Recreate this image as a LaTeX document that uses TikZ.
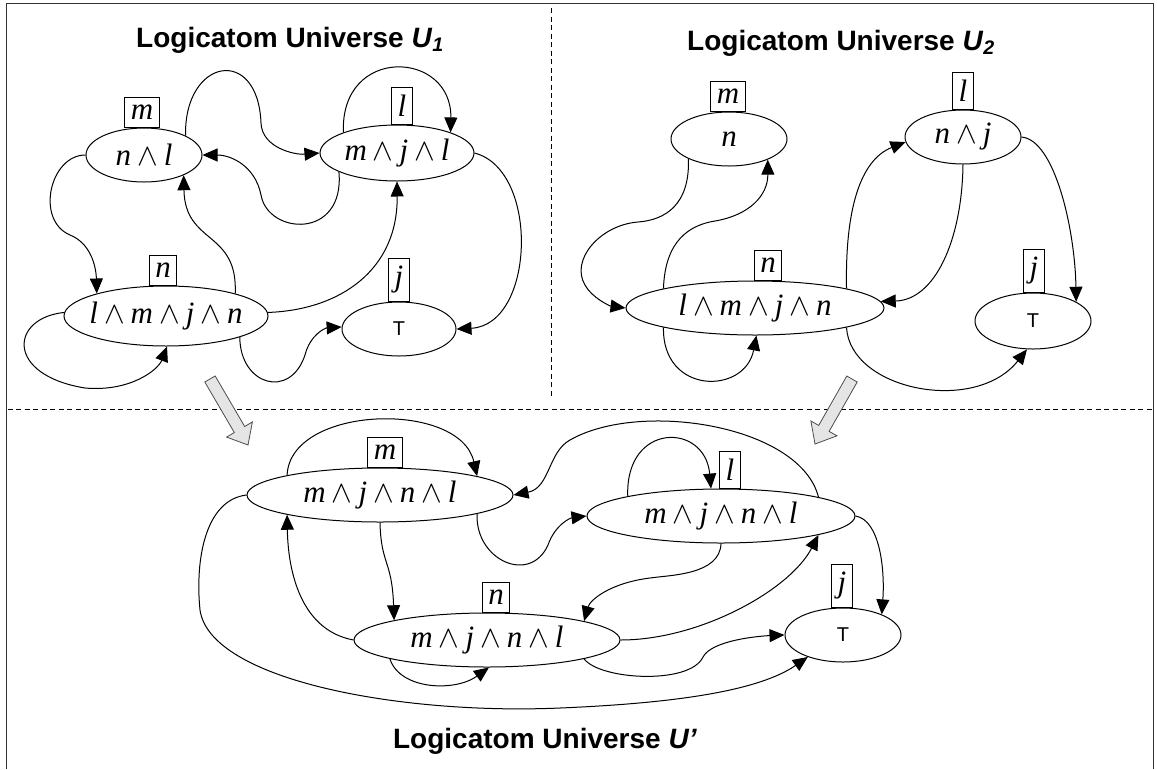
\RequirePackage{fix-cm}
\documentclass[tikz,border=0pt]{standalone}
\usepackage{fontspec}
\newfontfamily\sansf{Liberation Sans}
\newfontfamily\serf{Liberation Serif}
\usetikzlibrary{arrows.meta,shapes.geometric}
\newcommand\zwbox[1]{\makebox[0pt]{#1}}
\newcommand\lv[1]{{\serf\itshape #1}}
\newcommand\aw{\hspace{6pt}$\wedge$\hspace{6pt}}
\begin{document}
\begin{tikzpicture}[x=1pt,y=-1pt,
  ell/.style={draw, ellipse, inner sep=0pt, line width=1pt, font=\fontsize{31}{33}\selectfont},
  lbl/.style={draw, line width=0.9pt, inner xsep=6pt, inner ysep=7.5pt, anchor=south, font=\fontsize{31}{33}\selectfont},
  tnode/.style={font=\sansf\fontsize{20}{22}\selectfont},
  conn/.style={line width=1pt, -{Triangle[length=15pt,width=13pt]}},
  ttl/.style={font=\sansf\bfseries\fontsize{28}{30}\selectfont, anchor=base, inner sep=0pt},
  outerframe/.style={line width=1.8pt, black!80},
  divider/.style={line width=0.9pt, dash pattern=on 5pt off 3.5pt},
  bigarrow/.style={fill=black!10, draw=black!70, line width=0.8pt, line join=miter}
]
\useasboundingbox (0,0) rectangle (1157,769);

% frame and dividers
\draw[outerframe] (6.5,769) -- (6.5,3.5) -- (1153.5,3.5) -- (1153.5,769);
\draw[divider] (551,8) -- (551,398);
\draw[divider] (7.5,409) -- (1153,409);

% titles
\node[ttl] (t1) at (290,47) {Logicatom Universe \textit{U}\textsubscript{\textit{1}}};
\node[ttl] (t2) at (841,50) {Logicatom Universe \textit{U}\textsubscript{\textit{2}}};
\node[ttl] (t3) at (545,748) {Logicatom Universe \textit{U’}};

% ---------- Universe U1 ----------
\node[ell, minimum width=116pt, minimum height=54pt] (tl1) at (144,155) {\zwbox{\lv{n}\aw\lv{l}}};
\node[ell, minimum width=154pt, minimum height=56pt] (tl2) at (397,153) {\zwbox{\lv{m}\aw\lv{j}\aw\lv{l}}};
\node[ell, minimum width=204pt, minimum height=60pt] (tl3) at (166,316) {\zwbox{\lv{l}\aw\lv{m}\aw\lv{j}\aw\lv{n}}};
\node[ell, tnode, minimum width=114pt, minimum height=54pt] (tl4) at (399,329) {T};
\node[lbl] (tl1m) at ([xshift=-2pt]tl1.north) {\lv{m}};
\node[lbl] (tl2l) at ([xshift=5pt]tl2.north) {\lv{l}};
\node[lbl] (tl3n) at ([xshift=-3pt]tl3.north) {\lv{n}};
\node[lbl] (tl4j) at (tl4.north) {\lv{j}};

\draw[conn] (tl1.25) .. controls (184,58) and (258,45) .. (261,123) .. controls (262,148) and (295,155) .. (tl2.180);
\draw[conn] (tl2.198) .. controls (345,240) and (268,235) .. (261,195) .. controls (255,165) and (230,155) .. (tl1.0);
\draw[conn] (tl2.159) .. controls (340,45) and (452,50) .. (tl2.21);
\draw[conn] (tl2.0) .. controls (540,170) and (535,325) .. (tl4.0);
\draw[conn] (tl1.180) .. controls (50,155) and (35,220) .. (70,235) .. controls (90,243) and (96,265) .. (tl3.162);
\draw[conn] (tl3.178) .. controls (10,318) and (5,375) .. (85,388) .. controls (130,392) and (158,370) .. (tl3.272);
\draw[conn] (tl3.2) .. controls (340,310) and (398,270) .. (tl2.270);
\draw[conn] (tl3.18) .. controls (238,230) and (185,245) .. (tl1.333);
\draw[conn] (tl3.344) .. controls (240,385) and (290,400) .. (305,355) .. controls (310,335) and (325,328) .. (tl4.178);

% ---------- Universe U2 ----------
\node[ell, minimum width=116pt, minimum height=54pt] (tr1) at (729,139) {\zwbox{\lv{n}}};
\node[ell, minimum width=116pt, minimum height=54pt] (tr2) at (963,137) {\zwbox{\lv{n}\aw\lv{j}}};
\node[ell, minimum width=258pt, minimum height=54pt] (tr3) at (755,308) {\zwbox{\lv{l}\aw\lv{m}\aw\lv{j}\aw\lv{n}}};
\node[ell, tnode, minimum width=116pt, minimum height=56pt] (tr4) at (1033,321) {T};
\node[lbl] (tr1m) at ([xshift=-1pt]tr1.north) {\lv{m}};
\node[lbl] (tr2l) at (tr2.north) {\lv{l}};
\node[lbl] (tr3n) at ([xshift=13pt]tr3.north) {\lv{n}};
\node[lbl] (tr4j) at ([xshift=1pt]tr4.north) {\lv{j}};

\draw[conn] (tr1.206) .. controls (690,205) and (665,220) .. (638,222) .. controls (600,225) and (570,260) .. (585,285) .. controls (592,298) and (610,306) .. (tr3.180);
\draw[conn] (tr3.168) .. controls (665,240) and (690,225) .. (715,221) .. controls (750,215) and (768,195) .. (tr1.332);
\draw[conn] (tr3.192) .. controls (662,395) and (745,395) .. (tr3.273);
\draw[conn] (tr3.12) .. controls (845,210) and (860,160) .. (tr2.185);
\draw[conn] (tr2.270) .. controls (962,240) and (935,300) .. (tr3.3);
\draw[conn] (tr2.0) .. controls (1055,140) and (1075,230) .. (tr4.24);
\draw[conn] (tr3.348) .. controls (850,390) and (975,415) .. (tr4.258);

% ---------- merge arrows ----------
\draw[bigarrow] (215.2,376) -- (244.7,426.5) -- (252.4,421.9) -- (248,445) -- (226.6,437.1) -- (234.3,432.5) -- (204.8,382) -- cycle;
\draw[bigarrow] (846.8,376) -- (818.7,425.4) -- (810.9,421) -- (815,444) -- (837,435.8) -- (829.1,431.4) -- (857.2,382) -- cycle;

% ---------- Universe U' ----------
\node[ell, minimum width=266pt, minimum height=54pt] (b1) at (380,495) {\zwbox{\lv{m}\aw\lv{j}\aw\lv{n}\aw\lv{l}}};
\node[ell, minimum width=266pt, minimum height=54pt] (b2) at (487,640) {\zwbox{\lv{m}\aw\lv{j}\aw\lv{n}\aw\lv{l}}};
\node[ell, minimum width=268pt, minimum height=54pt] (b3) at (721,516) {\zwbox{\lv{m}\aw\lv{j}\aw\lv{n}\aw\lv{l}}};
\node[ell, tnode, minimum width=116pt, minimum height=54pt] (b4) at (843,635) {T};
\node[lbl] (b1m) at ([xshift=5pt]b1.north) {\lv{m}};
\node[lbl] (b2n) at ([xshift=9pt]b2.north) {\lv{n}};
\node[lbl] (b3l) at ([xshift=9pt]b3.north) {\lv{l}};
\node[lbl] (b4j) at ([xshift=-1pt]b4.north) {\lv{j}};

\draw[conn] (b1.168) .. controls (290,405) and (460,400) .. (b1.11);
\draw[conn] (b1.270) .. controls (381,565) and (392,560) .. (b2.168);
\draw[conn] (b2.180) .. controls (300,630) and (288,570) .. (b1.192);
\draw[conn] (b1.180) .. controls (205,500) and (195,560) .. (200,610) .. controls (210,680) and (400,715) .. (560,708) .. controls (680,703) and (760,690) .. (b4.212);
\draw[conn] (b3.11) .. controls (800,425) and (640,400) .. (570,440) .. controls (548,452) and (550,488) .. (b1.0);
\draw[conn] (b1.349) .. controls (475,560) and (530,585) .. (548,545) .. controls (555,525) and (570,518) .. (b3.180);
\draw[conn] (b3.168) .. controls (625,422) and (705,422) .. (b3.110);
\draw[conn] (b3.270) .. controls (720,575) and (670,575) .. (650,578) .. controls (610,583) and (590,600) .. (b2.11);
\draw[conn] (b2.0) .. controls (700,640) and (790,590) .. (b3.349);
\draw[conn] (b3.0) .. controls (880,520) and (885,570) .. (b4.28);
\draw[conn] (b2.349) .. controls (600,680) and (690,685) .. (703,657) .. controls (712,640) and (760,636) .. (b4.180);
\draw[conn] (b2.191) .. controls (400,690) and (455,692) .. (b2.274);
\end{tikzpicture}
\end{document}
